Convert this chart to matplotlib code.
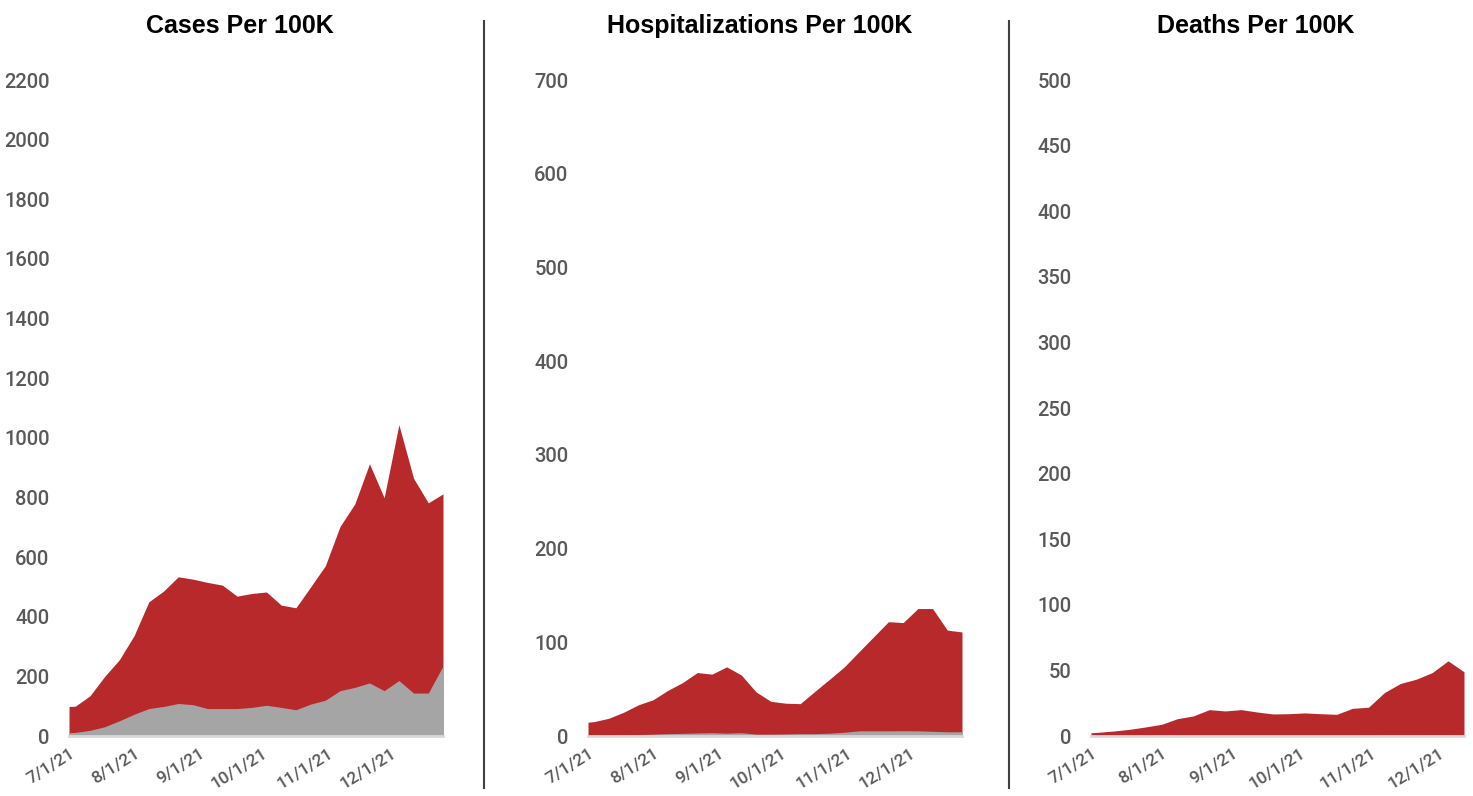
import matplotlib
matplotlib.use("Agg")
import matplotlib.pyplot as plt
import matplotlib.dates as mdates
from matplotlib import font_manager
from matplotlib.ticker import FuncFormatter, MultipleLocator
import datetime as dt

# ---------------- data ----------------
dates_main = ["2021-07-01"] + [(dt.date(2021, 7, 4) + dt.timedelta(days=7 * k)).isoformat() for k in range(26)]
dates_deaths = ["2021-07-01"] + [(dt.date(2021, 7, 4) + dt.timedelta(days=7 * k)).isoformat() for k in range(24)]

cases_unvax = [99, 100, 135, 200, 256, 337, 450, 486, 534, 526, 515, 506, 469, 478, 483, 439,
               430, 500, 571, 703, 778, 913, 799, 1044, 864, 782, 812]
cases_vax = [11, 12, 19, 31, 51, 73, 92, 99, 109, 105, 92, 92, 92, 96, 103, 96,
             88, 107, 120, 152, 163, 178, 152, 186, 144, 144, 235]

hosp_unvax = [14.7, 15.4, 19, 25.4, 33.3, 38.7, 48.7, 57, 67.7, 66, 73.8, 65, 47, 37, 35, 34.5,
              47.7, 60.6, 73.8, 90, 106, 122, 121, 136, 136, 113, 111]
hosp_vax = [0.5, 0.6, 0.8, 1.0, 1.5, 2.0, 2.5, 2.8, 3.2, 3.5, 3.0, 3.5, 2.0, 2.0, 2.2, 2.5,
            2.5, 3.0, 4.0, 5.5, 5.5, 5.5, 5.6, 5.5, 5.0, 4.5, 4.5]

deaths_unvax = [2.5, 2.8, 3.8, 5.1, 6.9, 8.9, 13.2, 15.3, 20.1, 19.1, 20.1, 18.3, 16.8, 17.0,
                17.6, 17.0, 16.5, 21.1, 21.9, 33.1, 40.0, 43.3, 48.3, 57.3, 48.9]
deaths_vax = [0.1, 0.1, 0.1, 0.1, 0.15, 0.2, 0.2, 0.25, 0.3, 0.3, 0.3, 0.3, 0.3, 0.3,
              0.3, 0.3, 0.3, 0.4, 0.5, 0.7, 0.8, 0.9, 0.9, 0.9, 0.6]

titles = ["Cases Per 100K", "Hospitalizations Per 100K", "Deaths Per 100K"]
y_max = [2200, 700, 500]
y_step = [200, 100, 50]

RED = "#B8292B"
GRAY = "#A5A5A5"
LABEL = "#595959"

# ---------------- fonts ----------------
available = {f.name for f in font_manager.fontManager.ttflist}
def pick(*names):
    for n in names:
        if n in available:
            return n
    return "DejaVu Sans"

title_font = pick("Liberation Sans", "Roboto", "DejaVu Sans")
tick_font = pick("Roboto", "Liberation Sans", "DejaVu Sans")

W, H = 1473, 796
fig = plt.figure(figsize=(W / 100, H / 100), dpi=100)

panels = [
    (dates_main, cases_unvax, cases_vax, 69, 443),
    (dates_main, hosp_unvax, hosp_vax, 588, 962),
    (dates_deaths, deaths_unvax, deaths_vax, 1091, 1464),
]
title_cx = [240, 760, 1256]
y_top, y_bot = 80, 736

def fmt_date(x, pos=None):
    d = mdates.num2date(x)
    return f"{d.month}/{d.day}/{d.year % 100}"

for i, (dts, unv, vax, x0, x1) in enumerate(panels):
    ax = fig.add_axes([x0 / W, 1 - y_bot / H, (x1 - x0) / W, (y_bot - y_top) / H])
    d = [dt.datetime.fromisoformat(s) for s in dts]
    ax.fill_between(d, 0, unv, color=RED, lw=0, zorder=2)
    ax.fill_between(d, 0, vax, color=GRAY, lw=0, zorder=3)
    ax.axhline(0, color="#D9D9D9", lw=2, zorder=4, clip_on=False)
    ax.set_xlim(d[0], d[-1])
    ax.set_ylim(0, y_max[i])
    ax.yaxis.set_major_locator(MultipleLocator(y_step[i]))
    ax.xaxis.set_major_locator(mdates.MonthLocator())
    ax.xaxis.set_major_formatter(FuncFormatter(fmt_date))
    for s in ax.spines.values():
        s.set_visible(False)
    ax.tick_params(axis="y", length=0, pad=14, labelsize=14.5, labelcolor=LABEL)
    ax.tick_params(axis="x", length=0, pad=7, labelsize=12.5, labelcolor=LABEL)
    for lab in ax.get_yticklabels():
        lab.set_fontfamily(tick_font)
        lab.set_fontweight("medium")
    for lab in ax.get_xticklabels():
        lab.set_fontfamily(tick_font)
        lab.set_fontweight("medium")
        lab.set_rotation(32)
        lab.set_ha("right")
        lab.set_va("top")
        lab.set_rotation_mode("anchor")
    ax.set_facecolor("none")
    fig.text(title_cx[i] / W, 1 - 33 / H, titles[i], ha="center", va="baseline",
             fontsize=18, fontweight="bold", family=title_font, color="black")

for xs in (484, 1009):
    fig.add_artist(plt.Line2D([xs / W, xs / W], [1 - 21 / H, 1 - 788 / H],
                              color="#404040", lw=1.5, transform=fig.transFigure))

fig.savefig("out.png", dpi=100)
